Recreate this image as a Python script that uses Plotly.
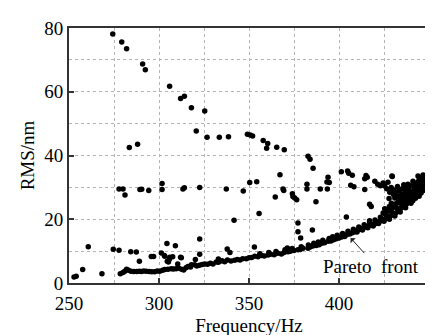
import plotly.graph_objects as go

# Pareto front (dense lower boundary)
front_f = [252.8, 254.0, 257.6, 268.3, 278.5, 280.0, 281.0, 282.0, 283.0, 284.4, 286.0, 287.6, 289.0,
           290.2, 291.5, 292.9, 294.5, 296.0, 297.6, 299.0, 300.4, 302.0, 303.2, 305.0, 306.8, 308.0,
           309.5, 311.0, 312.5, 313.7, 315.0, 316.1, 317.5, 318.0, 319.8, 321.0, 322.5, 324.0, 325.4,
           327.0, 328.5, 330.0, 331.8, 333.0, 333.7, 335.0, 336.5, 338.0, 340.0, 342.0, 343.5, 345.0,
           346.5, 348.5, 350.0, 351.5, 353.2, 355.0, 357.0, 358.5, 360.6, 362.0, 364.0, 366.0, 368.0,
           369.5, 371.7, 373.0, 375.0, 377.2, 378.5, 380.0, 382.8, 384.0, 385.5, 387.4, 389.0, 390.5,
           392.0, 393.9, 395.5, 397.0, 398.5, 400.0, 401.5, 403.2, 404.5, 406.0, 407.5, 409.0, 410.6,
           412.0, 413.5, 415.0, 416.5, 418.0, 419.8, 421.0, 422.5, 424.0, 425.5, 427.2, 428.5, 430.0,
           431.5, 433.0, 434.6, 436.0, 437.5, 439.0, 440.2, 441.5, 442.8, 444.0, 444.8, 445.8, 446.7,
           447.5]
front_r = [1.9, 2.1, 4.2, 2.9, 2.9, 3.3, 3.7, 4.3, 4.0, 3.7, 3.6, 3.6, 3.7,
           3.6, 3.8, 3.7, 3.6, 3.5, 3.5, 3.8, 3.7, 4.0, 4.2, 4.3, 4.5, 4.4,
           4.5, 4.6, 4.3, 4.1, 4.8, 5.2, 5.0, 5.7, 5.7, 5.3, 5.6, 5.8, 6.0,
           5.9, 6.2, 6.0, 6.6, 6.5, 6.8, 7.0, 6.7, 7.2, 6.9, 7.1, 7.4, 7.2,
           7.6, 7.6, 7.9, 8.0, 8.4, 8.2, 8.6, 8.5, 8.8, 9.0, 8.9, 9.3, 9.1,
           9.6, 9.8, 10.0, 10.2, 10.4, 10.5, 10.9, 10.9, 11.3, 11.6, 11.8, 12.0, 12.5,
           12.6, 13.1, 13.2, 13.6, 13.9, 14.1, 14.4, 14.6, 15.2, 15.4, 15.8, 16.1, 16.6,
           17.0, 17.2, 17.7, 18.0, 18.3, 18.5, 19.0, 19.3, 19.8, 20.1, 20.5, 21.0, 21.5,
           22.0, 22.6, 23.5, 24.0, 24.8, 25.6, 26.5, 27.2, 28.0, 29.0, 30.0, 31.0, 32.2,
           33.4]

# second and third rows thickening the front
front2_f = [356, 361, 365, 370, 374, 379, 383, 386, 388.5, 391, 394.5, 396.5, 399, 402, 405, 408,
            411, 414, 417, 420, 423, 426, 429, 432, 435, 438, 440.8, 443, 445,
            410, 413, 416, 419, 422, 425, 428, 431, 434, 437, 440, 442.5, 445, 447]
front2_r = [9.2, 9.6, 9.9, 10.4, 10.8, 11.4, 11.9, 12.5, 12.9, 13.4, 14.0, 14.5, 15.0, 15.5, 16.2, 16.9,
            17.6, 18.3, 19.1, 19.8, 20.6, 21.4, 22.5, 23.5, 24.8, 26.2, 27.8, 29.5, 31.2,
            16.0, 16.6, 17.3, 17.9, 18.7, 19.4, 20.0, 21.0, 22.3, 23.6, 25.0, 26.6, 28.4, 30.5]

# dense cluster at the high-frequency end
cluster_f = [419.9, 421.5, 423.0, 424.5, 425.4, 426.5, 427.2, 428.2, 429.0, 429.6, 430.5, 431.0, 431.8,
             432.5, 433.5, 434.5, 435.2, 436.0, 436.8, 437.5, 438.3, 439.0, 439.8, 440.5, 441.1, 441.8,
             442.5, 443.2, 444.0, 444.6, 445.3, 446.0, 446.7, 447.3, 448.0, 429.1, 425.4, 427.8, 433.0,
             435.8, 424.5, 426.0, 428.0, 430.0, 432.0, 434.0, 436.5, 438.5, 440.0, 442.0, 427.0, 429.5,
             431.5, 433.5, 437.0, 439.5, 441.5, 443.5,
             438.0, 440.5, 442.0, 443.5, 445.0, 446.2, 444.5, 446.8, 447.8, 441.0, 439.2, 436.0,
             434.2, 432.2, 430.2, 445.6, 447.0, 443.0, 448.2, 437.8]
cluster_r = [31.9, 31.0, 30.5, 31.4, 30.4, 29.6, 31.6, 28.5, 30.0, 33.4, 29.2, 26.7, 28.5,
             30.3, 29.0, 27.8, 29.6, 30.8, 28.4, 29.8, 31.0, 29.2, 30.5, 28.0, 31.9, 30.0,
             31.2, 29.5, 31.8, 32.6, 33.0, 32.0, 33.9, 32.8, 33.6, 25.0, 23.3, 26.5, 25.5,
             26.2, 22.0, 23.0, 24.0, 24.5, 25.0, 26.0, 27.0, 27.5, 28.5, 29.0, 22.5, 23.5,
             24.0, 27.0, 26.0, 27.0, 28.0, 30.0,
             25.8, 26.8, 27.6, 28.6, 29.6, 30.6, 27.2, 29.0, 31.5, 25.8, 27.8, 28.0,
             25.0, 27.2, 27.8, 28.2, 31.8, 30.8, 32.5, 26.8]

# dominated solutions: upper diagonal and band near 30 nm
upper_f = [274.3, 279.3, 282.0, 290.9, 292.4, 305.9, 312.0, 314.1, 318.0, 325.4, 320.7, 326.7, 333.5,
           338.6, 283.5, 288.1, 349.1, 350.7, 352.0, 357.9, 360.4, 359.8, 365.4, 369.6, 382.8, 383.9,
           385.6, 367.2, 393.9, 401.3, 404.8, 405.4, 407.4, 415.0, 415.7, 429.4, 443.9,
           277.8, 280.0, 281.1, 289.4, 290.4, 294.3, 301.7, 301.7, 313.3, 314.1, 322.6, 337.4, 346.8,
           350.4, 354.3, 368.9, 369.3, 364.6, 374.1, 374.4, 375.4, 376.5, 382.2, 382.2, 387.2, 389.6,
           393.3, 394.6, 393.5, 406.5, 408.3, 414.3, 414.3]
upper_r = [78.1, 75.6, 73.5, 68.7, 66.9, 61.7, 57.9, 58.6, 55.0, 54.0, 47.7, 45.7, 45.7,
           45.9, 42.5, 43.5, 46.7, 46.4, 46.1, 44.7, 43.8, 42.3, 42.6, 41.8, 39.8, 38.8,
           36.0, 34.0, 33.2, 34.9, 35.1, 34.4, 33.8, 33.7, 33.2, 33.6, 33.6,
           29.5, 29.5, 27.6, 29.3, 29.4, 29.0, 31.2, 29.3, 29.5, 29.9, 30.0, 29.5, 28.9,
           31.5, 31.8, 29.5, 29.0, 27.0, 28.0, 27.1, 26.7, 26.1, 31.0, 29.5, 25.5, 29.5,
           31.7, 31.5, 29.5, 30.7, 30.2, 32.7, 29.3]

# other scattered solutions
scatter_f = [355.6, 341.7, 377.2, 377.2, 378.7, 385.2, 417.0, 417.9, 404.1, 417.0,
             260.7, 274.6, 277.8, 284.3, 287.4, 289.1, 295.7, 297.0, 301.3, 303.0, 304.4, 304.6,
             305.7, 307.6, 309.1, 310.4, 312.4, 322.6, 322.6, 320.2, 333.0, 337.9, 339.4, 353.0,
             371.3, 303.2, 306.0, 305.2, 312.0]
scatter_r = [21.8, 19.7, 18.8, 16.1, 14.1, 16.6, 24.7, 24.0, 20.7, 19.5,
             11.4, 10.6, 10.3, 9.8, 9.7, 6.8, 8.3, 8.3, 9.4, 8.6, 12.4, 6.8,
             7.4, 8.2, 11.7, 6.0, 7.9, 13.8, 9.0, 7.4, 7.5, 10.7, 9.6, 11.3,
             11.0, 8.4, 8.1, 6.6, 8.1]

freq = front_f + front2_f + cluster_f + upper_f + scatter_f
rms = front_r + front2_r + cluster_r + upper_r + scatter_r

x_ticks = [250, 300, 350, 400, 450]
y_ticks = [0, 20, 40, 60, 80]

FONT = "Liberation Serif"
GRID = "#b4b4b4"

fig = go.Figure()
fig.add_trace(go.Scatter(x=freq, y=rms, mode="markers",
                         marker=dict(color="black", size=5.5, line=dict(width=0)),
                         showlegend=False))

axis_common = dict(
    showline=True, linewidth=2, linecolor="#333", mirror=True,
    ticks="inside", ticklen=5, tickwidth=1.5, tickcolor="#333",
    showgrid=True, gridcolor=GRID, griddash="dot", gridwidth=1,
    zeroline=False,
    tickfont=dict(family=FONT, size=19, color="black"),
)

fig.update_xaxes(**axis_common, range=[250, 450], tickvals=x_ticks, ticklabelstandoff=2,
                 minor=dict(dtick=25, showgrid=True, gridcolor=GRID, griddash="dot", gridwidth=1, ticks=""),
                 title=dict(text="Frequency/Hz", font=dict(family=FONT, size=19, color="black"), standoff=6))
fig.update_yaxes(**axis_common, range=[0, 80], tickvals=y_ticks,
                 minor=dict(dtick=10, showgrid=True, gridcolor=GRID, griddash="dot", gridwidth=1, ticks=""),
                 title=dict(text="RMS/nm", font=dict(family=FONT, size=19, color="black"), standoff=5))

fig.add_annotation(x=406.5, y=14.1, ax=414.8, ay=8.9, xref="x", yref="y", axref="x", ayref="y",
                   text="", showarrow=True, arrowhead=1, arrowsize=1.2, arrowwidth=1, arrowcolor="#222")
fig.add_annotation(x=418.0, y=5.1, xref="x", yref="y", text="Pareto  front", showarrow=False,
                   font=dict(family=FONT, size=19, color="black"))

fig.update_layout(width=433, height=335, margin=dict(l=61, r=12, t=10, b=57),
                  plot_bgcolor="white", paper_bgcolor="white")

fig.write_html("out.html")
